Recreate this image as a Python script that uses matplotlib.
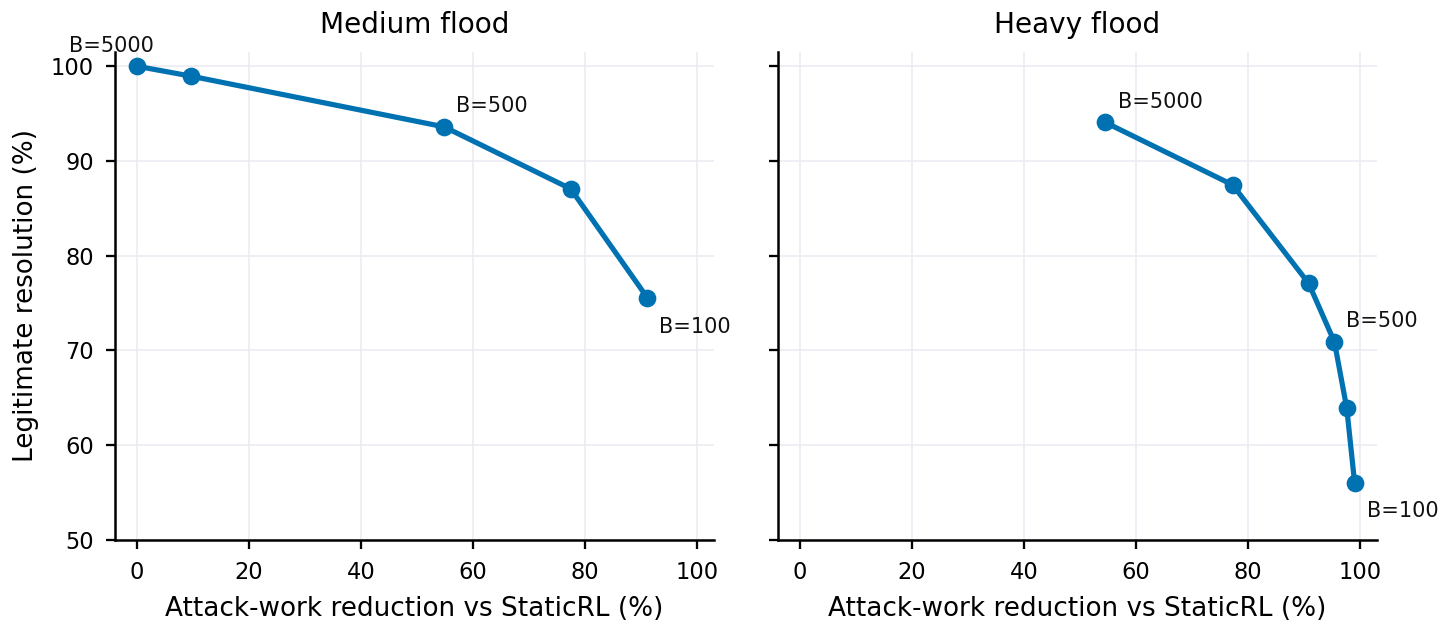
import matplotlib
matplotlib.use("Agg")
import matplotlib.pyplot as plt

# Data
medium_x = [0.0, 9.7, 54.9, 77.5, 91.2]
medium_y = [100.0, 98.95, 93.6, 87.06, 75.56]
medium_labels = {0: "B=5000", 2: "B=500", 4: "B=100"}

heavy_x = [54.6, 77.3, 90.9, 95.5, 97.7, 99.1]
heavy_y = [94.06, 87.48, 77.08, 70.89, 63.9, 56.04]
heavy_labels = {0: "B=5000", 3: "B=500", 5: "B=100"}

titles = ["Medium flood", "Heavy flood"]
xlabel = "Attack-work reduction vs StaticRL (%)"
ylabel = "Legitimate resolution (%)"
color = "#0072B2"

DPI = 150
fig = plt.figure(figsize=(1448 / DPI, 629 / DPI), dpi=DPI)
W, H = 1448, 629
ax1 = fig.add_axes([115 / W, 1 - 540 / H, (714 - 115) / W, (540 - 52) / H])
ax2 = fig.add_axes([778 / W, 1 - 540 / H, (1377 - 778) / W, (540 - 52) / H], sharey=ax1)

px2pt = 72 / DPI

def offs(dx, dy):
    return (dx * px2pt, -dy * px2pt)

label_offsets = [
    {0: offs(-68, -14), 2: offs(12, -15), 4: offs(12, 35)},
    {0: offs(12.6, -14), 3: offs(12, -14.7), 5: offs(12, 34)},
]

for i, (ax, xs, ys, labs) in enumerate([(ax1, medium_x, medium_y, medium_labels),
                                        (ax2, heavy_x, heavy_y, heavy_labels)]):
    ax.plot(xs, ys, color=color, lw=2.5, marker="o", ms=7.5, zorder=3)
    for idx, txt in labs.items():
        ax.annotate(txt, (xs[idx], ys[idx]), xytext=label_offsets[i][idx],
                    textcoords="offset points", ha="left", va="baseline",
                    fontsize=10, color="#111111")
    ax.set_xlim(-3.9, 103.1)
    ax.set_ylim(50, 101.5)
    ax.set_xticks([0, 20, 40, 60, 80, 100])
    ax.set_yticks([50, 60, 70, 80, 90, 100])
    ax.grid(True, color="#ebebf2", lw=0.8)
    ax.set_axisbelow(True)
    for s in ["top", "right"]:
        ax.spines[s].set_visible(False)
    for s in ["left", "bottom"]:
        ax.spines[s].set_linewidth(1.2)
    ax.tick_params(labelsize=10.8, width=1.1, length=4.5, pad=5.5)
    ax.set_xlabel(xlabel, fontsize=12.6, labelpad=6)
    ax.set_title(titles[i], fontsize=13.4, pad=9)

ax1.set_ylabel(ylabel, fontsize=12.6, labelpad=6)
ax2.tick_params(labelleft=False)

fig.savefig("out.png", dpi=DPI)
